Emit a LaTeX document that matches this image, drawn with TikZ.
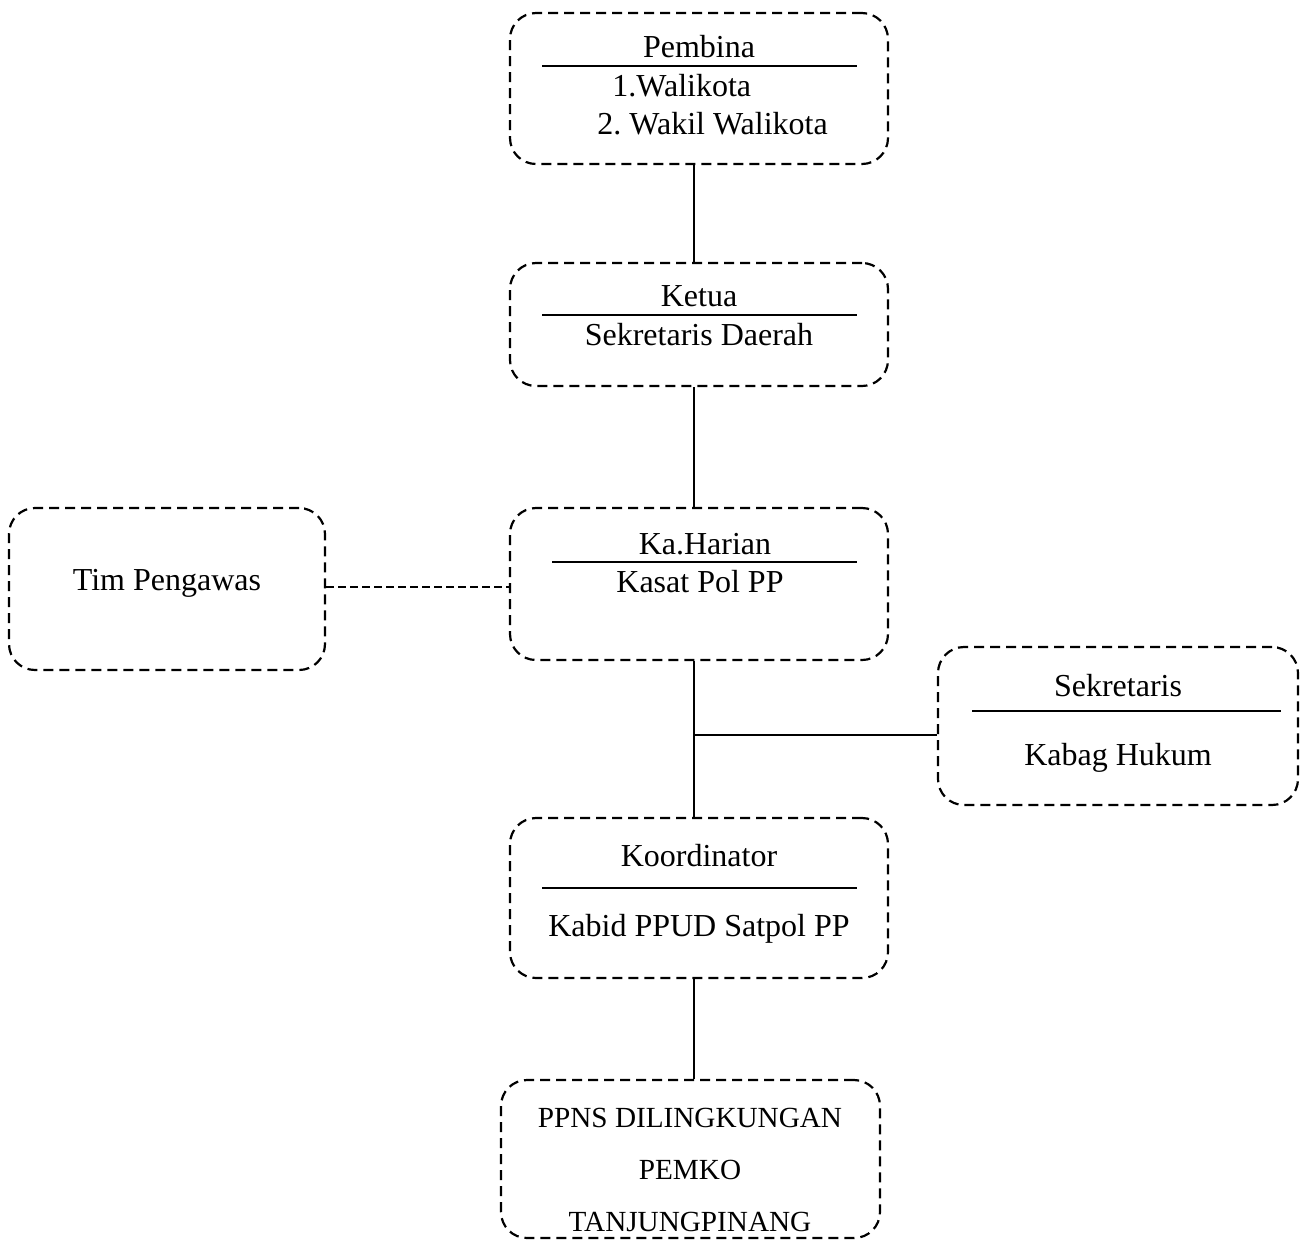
\documentclass[tikz,border=0pt]{standalone}
\usepackage{fontspec}
\setmainfont{Liberation Serif}
\frenchspacing
\begin{document}
\begin{tikzpicture}[x=0.5pt,y=-0.5pt,
  box/.style={draw,rectangle,rounded corners=13pt,line width=1.1pt,dash pattern=on 5pt off 3pt,inner sep=0pt},
  sep/.style={line width=1pt},
  conn/.style={line width=1pt},
  dconn/.style={line width=0.8pt,dash pattern=on 4pt off 2pt},
  txt/.style={font=\fontsize{16}{19}\selectfont,inner sep=0pt},
  stxt/.style={font=\fontsize{14.6}{17}\selectfont,inner sep=0pt}]
\useasboundingbox (0,0) rectangle (1302,1244);
% boxes
\node[box,minimum width=189pt,minimum height=75.5pt] (pembina) at (699,88.5) {};
\node[box,minimum width=189pt,minimum height=61.5pt] (ketua) at (699,324.5) {};
\node[box,minimum width=189pt,minimum height=76pt] (kah) at (699,584) {};
\node[box,minimum width=158pt,minimum height=81pt] (tim) at (167,589) {};
\node[box,minimum width=180pt,minimum height=79pt] (sek) at (1118,726) {};
\node[box,minimum width=189pt,minimum height=80pt] (koord) at (699,898) {};
\node[box,minimum width=189.5pt,minimum height=79pt] (ppns) at (690.5,1159) {};
% separators
\draw[sep] (542,66) -- (857,66);
\draw[sep] (542,315) -- (857,315);
\draw[sep] (552,562) -- (857,562);
\draw[sep] (972,711) -- (1281,711);
\draw[sep] (542,888) -- (857,888);
% texts
\node[txt] (t1) at (699,47) {Pembina};
\node[txt,anchor=west] (t2) at (612,86) {1.Walikota};
\node[txt,anchor=west] (t3) at (597,124) {2. Wakil Walikota};
\node[txt] (t4) at (699,296) {Ketua};
\node[txt] (t5) at (699,335) {Sekretaris Daerah};
\node[txt] (t6) at (705,544) {Ka.Harian};
\node[txt] (t7) at (700,582) {Kasat Pol PP};
\node[txt] (t8) at (167,583) {Tim Pengawas};
\node[txt] (t9) at (1118,686) {Sekretaris};
\node[txt] (t10) at (1118,758) {Kabag Hukum};
\node[txt] (t11) at (699,856) {Koordinator};
\node[txt] (t12) at (699,929) {Kabid PPUD Satpol PP};
\node[stxt] (t13) at (690,1118) {PPNS DILINGKUNGAN};
\node[stxt] (t14) at (690,1170) {PEMKO};
\node[stxt] (t15) at (690,1222) {TANJUNGPINANG};
% connectors
\coordinate (spine) at (694,0);
\coordinate (junc) at (694,735);
\coordinate (dl) at (0,587);
\draw[conn] (pembina.south -| spine) -- (ketua.north -| spine);
\draw[conn] (ketua.south -| spine) -- (kah.north -| spine);
\draw[conn] (kah.south -| spine) -- (koord.north -| spine);
\draw[conn] (junc) -- (sek.west |- junc);
\draw[conn] (koord.south -| spine) -- (ppns.north -| spine);
\draw[dconn] (tim.east |- dl) -- (kah.west |- dl);
\end{tikzpicture}
\end{document}
